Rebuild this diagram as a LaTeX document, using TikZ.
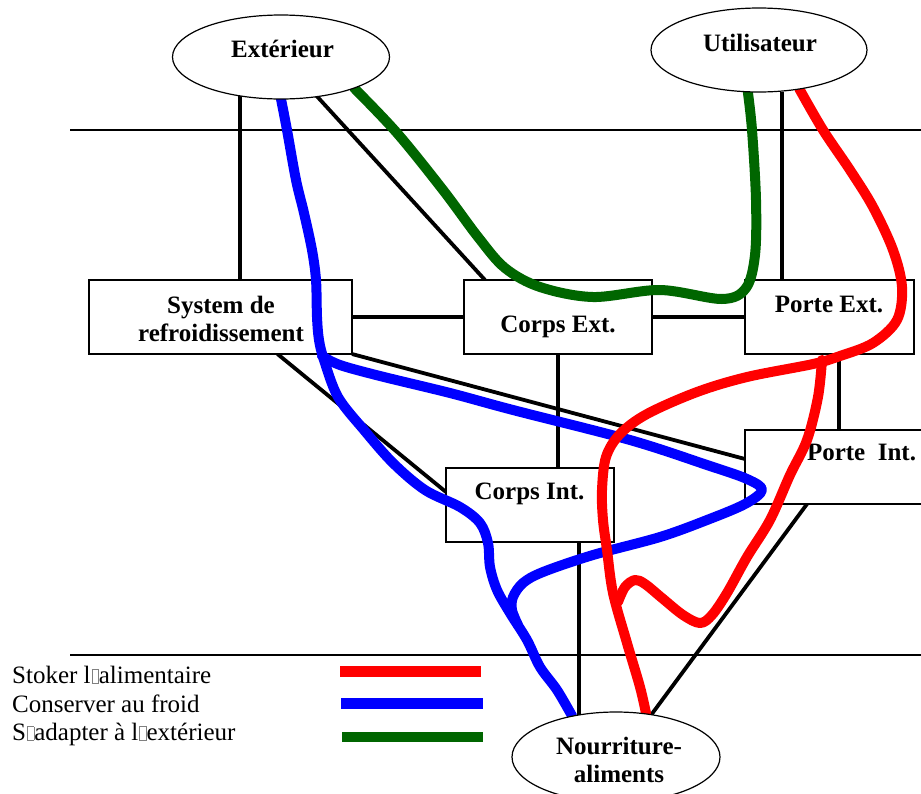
\documentclass[tikz,border=0pt]{standalone}
\usepackage{fontspec}
\setmainfont{Liberation Serif}
\usetikzlibrary{shapes.geometric}
\pgfdeclarelayer{background}
\pgfdeclarelayer{foreground}
\pgfsetlayers{background,main,foreground}
\definecolor{cred}{RGB}{255,0,0}
\definecolor{cblue}{RGB}{0,0,255}
\definecolor{cgreen}{RGB}{0,102,0}
\newcommand\missgl{{\kern1pt\color{gray}\fboxsep=0pt\fboxrule=0.6pt\fbox{\rule{0pt}{13pt}\hspace{6pt}}}}
\begin{document}
\begin{tikzpicture}[x=1pt,y=-1pt,
  boxnode/.style={draw, line width=1.2pt, fill=white, rectangle, inner sep=0pt, outer sep=0pt},
  ellnode/.style={draw, line width=1.2pt, fill=white, ellipse, inner sep=0pt, outer sep=0pt},
  lbl/.style={font=\bfseries\fontsize{25}{28}\selectfont, inner sep=0pt, anchor=base},
  legtext/.style={font=\fontsize{25}{28}\selectfont, inner sep=0pt, anchor=base west},
  conn/.style={line width=3.8pt},
  sepline/.style={line width=1.3pt},
  flow/.style={line width=10pt, line cap=round, line join=round},
]
\useasboundingbox (0,0) rectangle (921,793);

% boxes
\node[boxnode, minimum width=263pt, minimum height=74pt] (sys) at (220.5,317) {};
\node[boxnode, minimum width=188pt, minimum height=74pt] (ce) at (558,317) {};
\node[boxnode, minimum width=169pt, minimum height=74pt] (pe) at (829.5,317) {};
\node[boxnode, minimum width=185pt, minimum height=74pt] (pi) at (837.5,467) {};
\node[boxnode, minimum width=168pt, minimum height=74pt] (ci) at (530,505) {};

\node[lbl, align=center] (sys-t) at (221,341) {System de\\refroidissement};
\node[lbl] (ce-t) at (558,332) {Corps Ext.};
\node[lbl] (pe-t) at (829,312) {Porte Ext.};
\node[lbl] (pi-t) at (861.5,460) {Porte~~Int.};
\node[lbl] (ci-t) at (529.5,499) {Corps Int.};

% ellipses
\begin{pgfonlayer}{foreground}
\node[ellnode, minimum width=217pt, minimum height=84pt] (ext) at (281,57) {};
\node[lbl] (ext-t) at (282.5,57) {Extérieur};
\node[ellnode, minimum width=216pt, minimum height=84pt] (ut) at (759,50) {};
\node[lbl] (ut-t) at (760,51) {Utilisateur};
\node[ellnode, minimum width=208pt, minimum height=90pt] (nour) at (616,757) {};
\node[lbl, align=center] (nour-t) at (619,782) {Nourriture-\\aliments};
\end{pgfonlayer}

% separators and black connectors
\begin{pgfonlayer}{background}
\coordinate (s1a) at (70,130); \coordinate (s1b) at (921,130);
\coordinate (s2a) at (70,655); \coordinate (s2b) at (921,655);
\draw[sepline] (s1a) -- (s1b);
\draw[sepline] (s2a) -- (s2b);
\draw[conn] (ext.center -| 240,0) -- (sys.north -| 240,0);
\draw[conn] (ext.center) -- ([xshift=21pt]ce.north west);
\draw[conn] (sys.east) -- (ce.west);
\draw[conn] (ce.east) -- (pe.west);
\draw[conn] (ut.south -| 782,0) -- (pe.north -| 782,0);
\draw[conn] (ce.south -| 558,0) -- (ci.north -| 558,0);
\draw[conn] (sys.south east) -- ([yshift=-29pt]pi.north west);
\draw[conn] ([xshift=57pt]sys.south) -- ([yshift=-24pt]ci.north west);
\draw[conn] (pe.south -| 839,0) -- (pi.north -| 839,0);
\draw[conn] (ci.south -| 579,0) -- (nour.center -| 579,0);
\draw[conn] ([xshift=62pt]pi.south west) -- ([shift={(24,-27)}]nour.center);
\end{pgfonlayer}

% coloured flows
\draw[flow, cgreen] plot[smooth, tension=0.55] coordinates {(ext.-23) (397,133) (443,190) (478,237) (505,268) (540,287) (593,297) (660,290) (722,299) (746,288) (755,255) (756,200) (752,130) (ut.-105)};

\draw[flow, cblue] plot[smooth, tension=0.55] coordinates {(ext.-90) (287,130) (296,180) (304,213) (312,250) (316,280) (317,317) (319,340) (324,360) (338,397) (364,430) (393,463) (425,490) (460,507) (480,523) (488,543) (490,567) (497,590) (510,613) (527,640) (540,667) (557,690) (nour.137)};
\coordinate (bsplit) at (322,356);
\coordinate (bmerge) at (518,625);
\draw[flow, cblue] plot[smooth, tension=0.55] coordinates {(bsplit) (340,365) (380,376) (450,393) (513,410) (630,440) (707,465) (747,479) (762,490) (745,504) (707,520) (660,537) (593,555) (543,572) (523,583) (513,597) (512,610) (bmerge)};

\draw[flow, cred] plot[smooth, tension=0.55] coordinates {(ut.-44) (823,130) (850,170) (873,207) (893,250) (902,287) (897,320) (873,343) (840,356) (813,364) (747,377) (697,392) (647,414) (620,434) (606,457) (602,490) (603,520) (607,550) (613,593) (627,643) (640,687) (nour.55)};
\coordinate (rsplit) at (822,360);
\coordinate (rmerge) at (618,602);
\draw[flow, cred] plot[smooth, tension=0.55] coordinates {(rsplit) (818,397) (807,440) (790,475) (770,520) (747,557) (727,593) (712,615) (700,623) (683,615) (662,598) (645,584) (635,580) (625,587) (rmerge)};

% legend
\node[legtext] (leg1) at (12,683) {Stoker l\missgl alimentaire};
\node[legtext] (leg2) at (12,712) {Conserver au froid};
\node[legtext] (leg3) at (12,740) {S\missgl adapter à l\missgl extérieur};
\coordinate (lr1) at (340,671.5); \coordinate (lr2) at (481,671.5);
\coordinate (lb1) at (341,703.5); \coordinate (lb2) at (483,703.5);
\coordinate (lg1) at (342,737); \coordinate (lg2) at (483,737);
\draw[line width=11pt, cred] (lr1) -- (lr2);
\draw[line width=11pt, cblue] (lb1) -- (lb2);
\draw[line width=10pt, cgreen] (lg1) -- (lg2);
\end{tikzpicture}
\end{document}
